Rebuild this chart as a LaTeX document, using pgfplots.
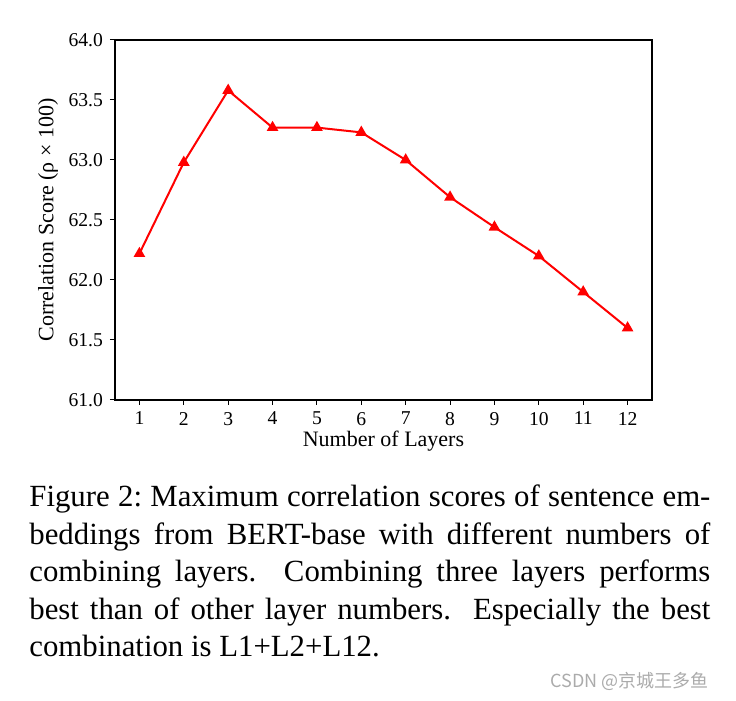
\documentclass[border=0pt]{standalone}
\usepackage{pgfplots}
\pgfplotsset{compat=1.18}
\usepackage{fontspec}
\setmainfont{Liberation Serif}
\newfontfamily\cjk{Noto Sans CJK SC}
\begin{document}
\begin{tikzpicture}[x=1pt,y=1pt]
\useasboundingbox (-57.5,-150.5) rectangle (310.5,200);
\begin{axis}[
  at={(0,0)}, anchor=south west,
  scale only axis, width=268.5pt, height=180pt,
  xmin=0.45, xmax=12.55, ymin=61, ymax=64,
  xtick={1,...,12}, ytick={61,61.5,...,64},
  yticklabel style={/pgf/number format/.cd, fixed, fixed zerofill, precision=1},
  /pgf/number format/assume math mode=true,
  tick label style={font=\fontsize{9.8}{11}\selectfont},
  label style={font=\fontsize{11}{12}\selectfont},
  tick align=outside, xtick pos=bottom, ytick pos=left,
  major tick length=2.5pt,
  tick style={black, line width=0.5pt},
  axis line style={line width=0.6pt},
  xlabel={Number of Layers},
  ylabel={Correlation Score (ρ × 100)},
  xlabel style={at={(axis description cs:0.5,-0.1278)}, anchor=base},
  ylabel style={at={(axis description cs:-0.1248,0.5)}, anchor=center},
]
\addplot[red, line width=1pt, mark=triangle*, mark size=2.4pt] coordinates {
(1,62.22) (2,62.98) (3,63.58) (4,63.27) (5,63.27) (6,63.23)
(7,63.00) (8,62.69) (9,62.44) (10,62.20) (11,61.90) (12,61.60)
};
\end{axis}
\node[anchor=base west, inner sep=0] at (-43,-53.5) {\parbox[t]{340.5pt}{\fontsize{15.4}{18.75}\selectfont\frenchspacing
\makebox[340.5pt][s]{Figure 2: Maximum correlation scores of sentence em-}\\
\makebox[340.5pt][s]{beddings from BERT-base with different numbers of}\\
\makebox[340.5pt][s]{combining layers.\ \ Combining three layers performs}\\
\makebox[340.5pt][s]{best than of other layer numbers.\ \ Especially the best}\\
combination is L1+L2+L12.}};
\node[anchor=base west, inner sep=0, text=black!33] at (217.5,-144) {\cjk\fontsize{9}{10}\selectfont CSDN @京城王多鱼};
\end{tikzpicture}
\end{document}
